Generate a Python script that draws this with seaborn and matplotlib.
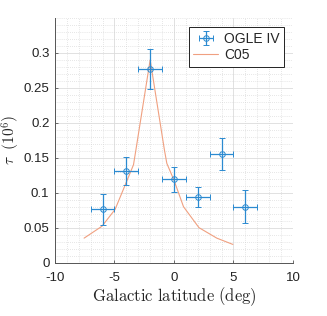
import numpy as np
import pandas as pd
import matplotlib
matplotlib.use("Agg")
import matplotlib.pyplot as plt
import seaborn as sns
from matplotlib.ticker import MultipleLocator

# OGLE IV optical depth per latitude bin
ogle_lat = [-6, -4, -2, 0, 2, 4, 6]
ogle_tau = [0.076, 0.131, 0.277, 0.119, 0.094, 0.155, 0.080]
ogle_tau_err = [0.022, 0.020, 0.029, 0.018, 0.014, 0.023, 0.024]
ogle_lat_err = [1, 1, 1, 1, 1, 1, 1]

# C05 model curve
c05_lat = [-7.55, -6.05, -4.95, -4.1, -3.4, -3.2, -2.0, -0.8, -0.6, 0.0, 0.8, 2.1, 3.6, 4.95]
c05_tau = [0.035, 0.052, 0.076, 0.111, 0.140, 0.161, 0.290, 0.161, 0.142, 0.118, 0.080, 0.050, 0.035, 0.026]

blue = "#2b8ad0"
orange = "#f0a080"

sns.set_theme(style="white")
plt.rcParams["mathtext.fontset"] = "cm"
plt.rcParams["font.family"] = ["Liberation Sans Narrow", "Liberation Sans", "DejaVu Sans"]

fig = plt.figure(figsize=(3.27, 3.16), dpi=100)
ax = fig.add_axes([0.168, 0.169, 0.728, 0.774])

df = pd.DataFrame({"lat": c05_lat, "tau": c05_tau})
sns.lineplot(data=df, x="lat", y="tau", ax=ax, color=orange, lw=0.8, label="C05", zorder=2)

eb = ax.errorbar(ogle_lat, ogle_tau, yerr=ogle_tau_err, xerr=ogle_lat_err, fmt="o",
                 mfc="none", mec=blue, ms=4, mew=0.7, color=blue, ecolor=blue,
                 elinewidth=0.9, capsize=2.5, capthick=0.9, label="OGLE IV", zorder=3)

ax.set_xlim(-10, 10)
ax.set_ylim(0, 0.35)
ax.xaxis.set_major_locator(MultipleLocator(5))
ax.xaxis.set_minor_locator(MultipleLocator(1))
ax.yaxis.set_major_locator(MultipleLocator(0.05))
ax.yaxis.set_minor_locator(MultipleLocator(0.01))
ax.set_yticks([0, 0.05, 0.1, 0.15, 0.2, 0.25, 0.3])
ax.set_yticklabels(["0", "0.05", "0.1", "0.15", "0.2", "0.25", "0.3"])
ax.set_xticks([-10, -5, 0, 5, 10])
ax.set_xticklabels(["-10", "-5", "0", "5", "10"])

ax.grid(True, which="major", color="#dcdcdc", lw=0.6, ls="-")
ax.grid(True, which="minor", color="#cfcfcf", lw=0.5, ls=(0, (1, 2)))
ax.set_axisbelow(True)

for s in ["top", "right"]:
    ax.spines[s].set_visible(False)
for s in ["left", "bottom"]:
    ax.spines[s].set_color("#555555")
    ax.spines[s].set_linewidth(0.7)
ax.tick_params(axis="both", which="major", direction="in", length=2.5, width=0.6,
               colors="#555555", labelcolor="#222222", labelsize=9.5, pad=4,
               bottom=True, left=True)
ax.tick_params(axis="x", which="major", pad=7)
ax.tick_params(which="minor", length=0)

ax.set_xlabel(r"$\mathrm{Galactic\ latitude\ (deg)}$", fontsize=12, labelpad=1)
ax.set_ylabel(r"$\tau\ \ (10^6)$", fontsize=11)
ax.yaxis.set_label_coords(-0.14, 0.5)

handles, labels = ax.get_legend_handles_labels()
order = [labels.index("OGLE IV"), labels.index("C05")]
leg = ax.legend([handles[i] for i in order], [labels[i] for i in order],
                loc="upper right", bbox_to_anchor=(0.99, 0.99), fontsize=10,
                frameon=True, fancybox=False, framealpha=1, edgecolor="#222222",
                borderpad=0.3, handlelength=1.8, handletextpad=0.4, labelspacing=0.2)
leg.get_frame().set_linewidth(0.7)

fig.savefig("out.png", dpi=100)
